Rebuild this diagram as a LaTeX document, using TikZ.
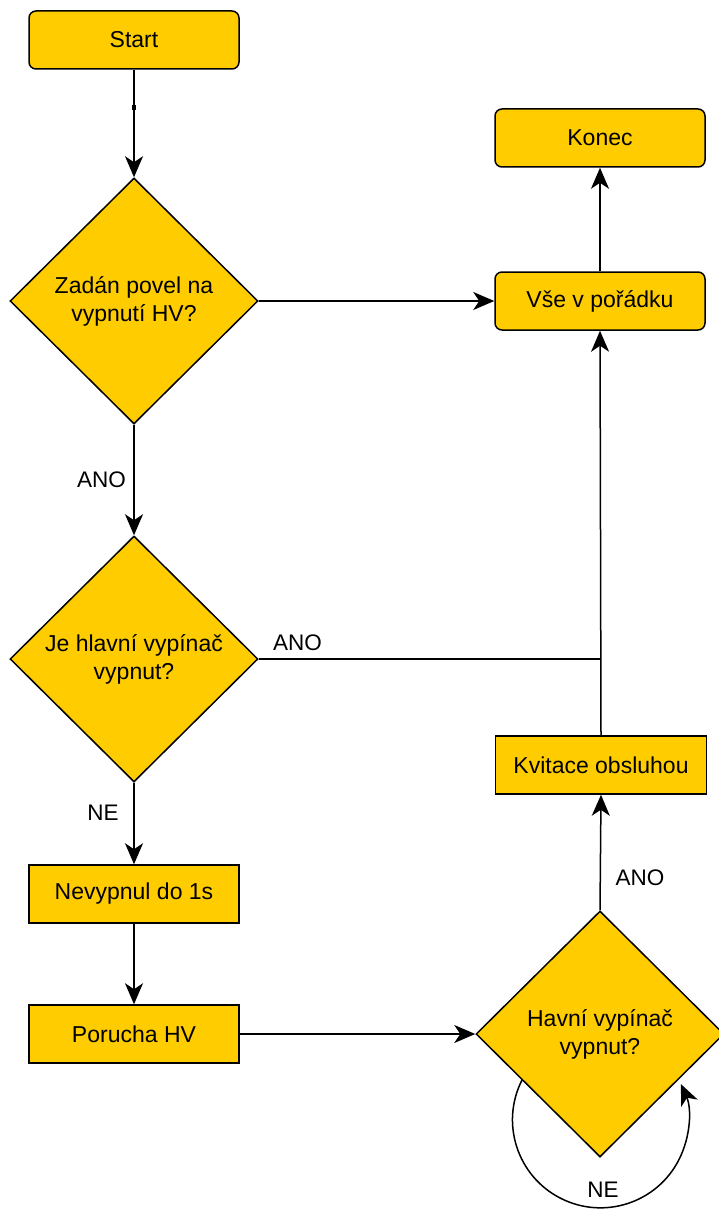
\documentclass[tikz,border=0pt]{standalone}
\usepackage{fontspec}
\setmainfont{Liberation Sans}
\usetikzlibrary{shapes.geometric,arrows.meta}
\definecolor{boxfill}{HTML}{FFCC00}
\tikzset{
  base/.style={draw=black, line width=1.5pt, fill=boxfill, font=\fontsize{23}{28}\selectfont,
    align=center, inner sep=0pt},
  roundbox/.style={base, rectangle, rounded corners=7pt, minimum width=210pt, minimum height=58pt},
  plainbox/.style={base, rectangle, minimum width=210pt, minimum height=58pt},
  decision/.style={base, diamond, minimum width=248pt, minimum height=246pt},
  conn/.style={line width=1.5pt, -{Stealth[length=21pt,width=18pt,inset=6pt]}},
  wire/.style={line width=1.5pt},
  lbl/.style={font=\fontsize{22.5}{26}\selectfont, inner sep=0pt}
}
\begin{document}
\begin{tikzpicture}[x=1pt,y=-1pt]
\useasboundingbox (0,0) rectangle (719,1209);

% boxes
\node[roundbox] (start) at (134,40) {Start};
\node[roundbox] (konec) at (600,138) {Konec};
\node[roundbox] (vse) at (600,301) {Vše v pořádku};
\node[plainbox, minimum width=211pt] (kvit) at (601,765) {Kvitace obsluhou};
\node[plainbox] (nevyp) at (134,894) {Nevypnul do 1s};
\node[plainbox] (poruch) at (134,1034) {Porucha HV};

% decisions
\node[decision] (d1) at (134,301) {Zadán povel na\\vypnutí HV?};
\node[decision] (d2) at (134,659) {Je hlavní vypínač\\vypnut?};
\node[decision] (d3) at (600,1034) {Havní vypínač\\vypnut?};

% helper points
\coordinate (wp) at (134,108);
\coordinate (join) at (600,659);
\coordinate (loopA) at (522,1080);

% connectors
\draw[wire] (start.south) -- (wp);
\fill (wp) +(-2,-2.5) rectangle +(2,2.5);
\draw[conn] (wp) -- (d1.north);
\draw[conn] (d1.east) -- (vse.west);
\draw[conn] (vse.north) -- (konec.south);
\draw[conn] (d1.south) -- (d2.north);
\draw[wire] (d2.east) -- (join);
\draw[conn] (kvit.north) -- (vse.south);
\draw[conn] (d2.south) -- (nevyp.north);
\draw[conn] (nevyp.south) -- (poruch.north);
\draw[conn] (poruch.east) -- (d3.west);
\draw[conn] (d3.north) -- (kvit.south);
\draw[conn] (loopA) arc[start angle=206.9, end angle=-24, radius=88];

% labels
\node[lbl] (l1) at (101.5,479.5) {ANO};
\node[lbl] (l2) at (297.5,642.5) {ANO};
\node[lbl] (l3) at (103,813) {NE};
\node[lbl] (l4) at (640,878) {ANO};
\node[lbl] (l5) at (603,1190) {NE};
\end{tikzpicture}
\end{document}
